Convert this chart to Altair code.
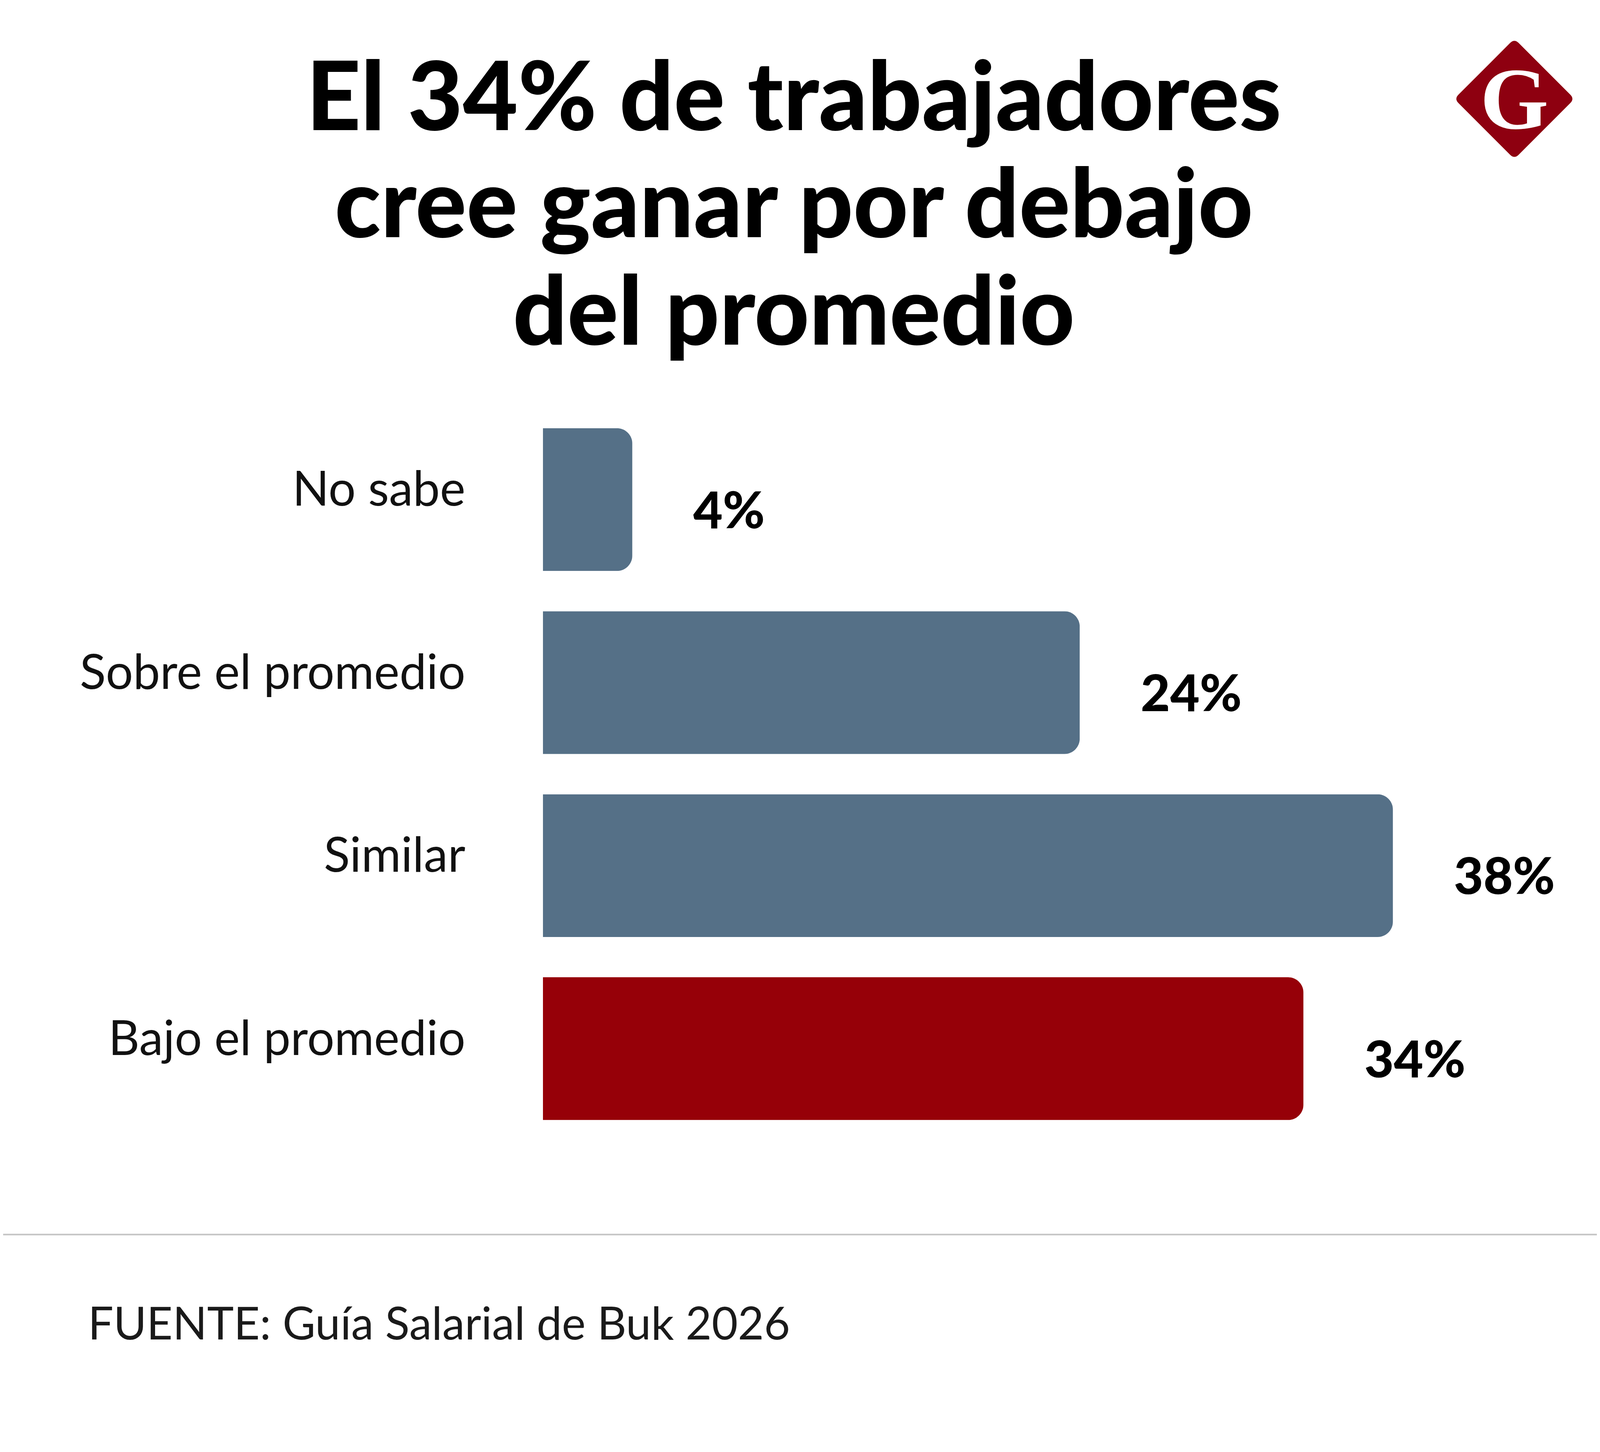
import altair as alt
import pandas as pd

# ---- data ----
CATEGORIES = ["No sabe", "Sobre el promedio", "Similar", "Bajo el promedio"]
VALUES = [4, 24, 38, 34]
BAR_COLORS = ["#557087", "#557087", "#557087", "#960008"]
TITLE_LINES = ["El 34% de trabajadores", "cree ganar por debajo", "del promedio"]
SOURCE = "FUENTE: Guía Salarial de Buk 2026"
LOGO_LETTER = "G"

W, H = 4134, 3670
DY = -26  # global vertical shift

df = pd.DataFrame({
    "cat": CATEGORIES,
    "value": VALUES,
    "label": [f"{v}%" for v in VALUES],
})

y_enc = alt.Y("cat:N", sort=CATEGORIES,
              scale=alt.Scale(domain=CATEGORIES, range=[1104 + DY, 2898 + DY],
                              paddingInner=0.22, paddingOuter=0),
              axis=None)
x_enc = alt.X("value:Q", scale=alt.Scale(domain=[0, 38], range=[1400, 3605]),
              axis=None)

base = alt.Chart(df)

bars = base.mark_bar(cornerRadiusEnd=40).encode(
    x=x_enc, y=y_enc,
    color=alt.Color("cat:N", scale=alt.Scale(domain=CATEGORIES, range=BAR_COLORS),
                    legend=None),
)

values = base.mark_text(align="left", baseline="middle", dx=158, dy=34,
                        font="Lato", fontWeight=900, fontSize=132,
                        color="#000000").encode(
    x=x_enc, y=y_enc, text="label:N")

cats = base.mark_text(align="right", baseline="middle", dy=-22,
                      font="Lato", fontWeight=400, fontSize=125,
                      color="#111111").encode(
    x=alt.value(1199), y=y_enc, text="cat:N")

one = pd.DataFrame({"k": [0]})
layers = [bars, values, cats]

title_y = [331, 609, 887]
for line, yy in zip(TITLE_LINES, title_y):
    layers.append(
        alt.Chart(one).mark_text(text=line, align="center", baseline="alphabetic",
                                 font="Lato", fontWeight=900, fontSize=247,
                                 color="#000000")
        .encode(x=alt.value(2051), y=alt.value(yy + DY))
    )

diamond = ("M -0.07,-0.93 Q 0,-1 0.07,-0.93 L 0.93,-0.07 Q 1,0 0.93,0.07 "
           "L 0.07,0.93 Q 0,1 -0.07,0.93 L -0.93,0.07 Q -1,0 -0.93,-0.07 Z")
layers.append(
    alt.Chart(one).mark_point(shape=diamond, filled=True, size=312 * 312,
                              color="#8e0010", opacity=1, strokeWidth=0)
    .encode(x=alt.value(3920), y=alt.value(250 + DY))
)
layers.append(
    alt.Chart(one).mark_text(text=LOGO_LETTER, align="center", baseline="alphabetic",
                             font="Liberation Serif", fontWeight="bold", fontSize=228,
                             color="#ffffff")
    .encode(x=alt.value(3920), y=alt.value(327 + DY))
)

layers.append(
    alt.Chart(one).mark_rule(color="#c4c4c4", strokeWidth=4)
    .encode(x=alt.value(0), x2=alt.value(W), y=alt.value(3195 + DY))
)
layers.append(
    alt.Chart(one).mark_text(text=SOURCE, align="left", baseline="alphabetic",
                             font="Lato", fontWeight=400, fontSize=117,
                             color="#1a1a1a")
    .encode(x=alt.value(220), y=alt.value(3467 + DY))
)

chart = alt.layer(*layers).properties(
    width=W, height=H, padding=0, background="#ffffff",
    autosize=alt.AutoSizeParams(type="none"),
).configure_view(strokeWidth=0, stroke="transparent")

chart.save("out.html", embed_options={"renderer": "svg", "actions": False})
